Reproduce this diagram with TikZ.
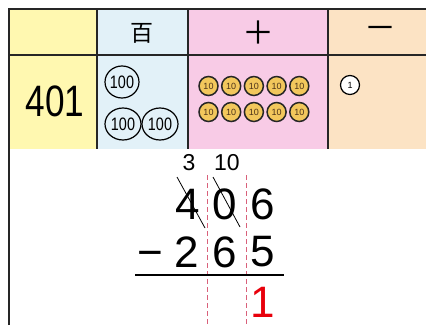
\documentclass[tikz,border=0pt]{standalone}
\usepackage{fontspec}
\setmainfont{Liberation Sans}
\newfontfamily\cjk{Noto Sans CJK JP}
\usetikzlibrary{positioning,shapes.geometric}
\definecolor{colyellow}{HTML}{FFF8B0}
\definecolor{colblue}{HTML}{E2F1F8}
\definecolor{colpink}{HTML}{F8CBE6}
\definecolor{colpeach}{HTML}{FCE3C4}
\definecolor{coingold}{HTML}{F2C75C}
\definecolor{dashred}{HTML}{D9607A}
\definecolor{ansred}{HTML}{E8000B}

\begin{document}
\begin{tikzpicture}[x=1pt,y=-1pt]
\tikzstyle{grid}=[line width=1.6pt,draw=black!85]
\tikzstyle{big}=[inner sep=0pt,font=\fontsize{44}{44}\selectfont]
\tikzstyle{small}=[inner sep=0pt,font=\fontsize{23}{23}\selectfont]
\tikzstyle{head}=[inner sep=0pt,font=\cjk\fontsize{23}{23}\selectfont]
\tikzstyle{coinh}=[ellipse,draw,line width=1.2pt,minimum width=33pt,minimum height=32pt,inner sep=0pt,font=\fontsize{18}{18}\selectfont]
\tikzstyle{coint}=[circle,draw=black!85,fill=coingold,line width=1.5pt,minimum size=19pt,inner sep=0pt,font=\fontsize{9}{9}\selectfont,text=brown!40!black]
\tikzstyle{coino}=[circle,draw,fill=white,line width=1.2pt,minimum size=19pt,inner sep=0pt,font=\fontsize{9}{9}\selectfont]
\tikzstyle{guide}=[draw=dashred,line width=1pt,dash pattern=on 5pt off 3pt]
\useasboundingbox (0,0) rectangle (426,325);
\fill[colyellow] (9,9) rectangle (97,149);
\fill[colblue] (97,9) rectangle (188,149);
\fill[colpink] (188,9) rectangle (328,149);
\fill[colpeach] (328,9) rectangle (426,149);
\draw[grid] (9,325) -- (9,9) -- (426,9);
\draw[grid] (9,55) -- (426,55);
\foreach \x in {97,188,328} \draw[grid] (\x,9) -- (\x,149);
\node[head] (hund) at (142,33) {百};
\node[head,font=\cjk\fontsize{32}{32}\selectfont] (ten) at (258,33) {＋};
\node[head,font=\cjk\fontsize{32}{32}\selectfont] (one) at (380,33) {－};
\node[big] (num) at (55,101) {\scalebox{0.8}[1]{401}};
\node[coinh] (h1) at (122,82) {\scalebox{0.8}[1]{100}};
\node[coinh,minimum width=36pt] (h2) at (123,124) {\scalebox{0.8}[1]{100}};
\node[coinh,minimum width=36pt] (h3) at (160,124) {\scalebox{0.8}[1]{100}};
\foreach \i in {0,...,4}{
    \node[coint] (ta\i) at (208.5+22.7*\i,86) {10};
    \node[coint] (tb\i) at (208.5+22.7*\i,112) {10};
}
\node[coino] (o1) at (350,85) {1};
\coordinate (g1) at (207,175);
\coordinate (g2) at (246,175);
\draw[guide] (g1) -- (g1 |- 0,325);
\draw[guide] (g2) -- (g2 |- 0,325);
\node[small] (c3) at (189,163) {3};
\node[small] (c10) at (227,163) {10};
\node[big] (a4) at (188,204) {4};
\node[big] (a0) at (225,204) {0};
\node[big] (a6) at (263,204) {6};
\node[big] (b2) at (187,252) {2};
\node[big] (b6) at (225,252) {6};
\node[big] (b5) at (263,252) {5};
\node[big,anchor=base] (bm) at ([xshift=-37pt]b2.base) {−};
\draw[line width=0.8pt] ([shift={(-11,-27)}]a4.center) -- ([shift={(17,24)}]a4.center);
\draw[line width=0.8pt] ([shift={(-12,-27)}]a0.center) -- ([shift={(15,23)}]a0.center);
\coordinate (l1) at (135,275);
\coordinate (l2) at (284,275);
\draw[line width=2pt] (l1) -- (l2);
\node[big,text=ansred] (r1) at (263,302) {1};
\end{tikzpicture}
\end{document}
